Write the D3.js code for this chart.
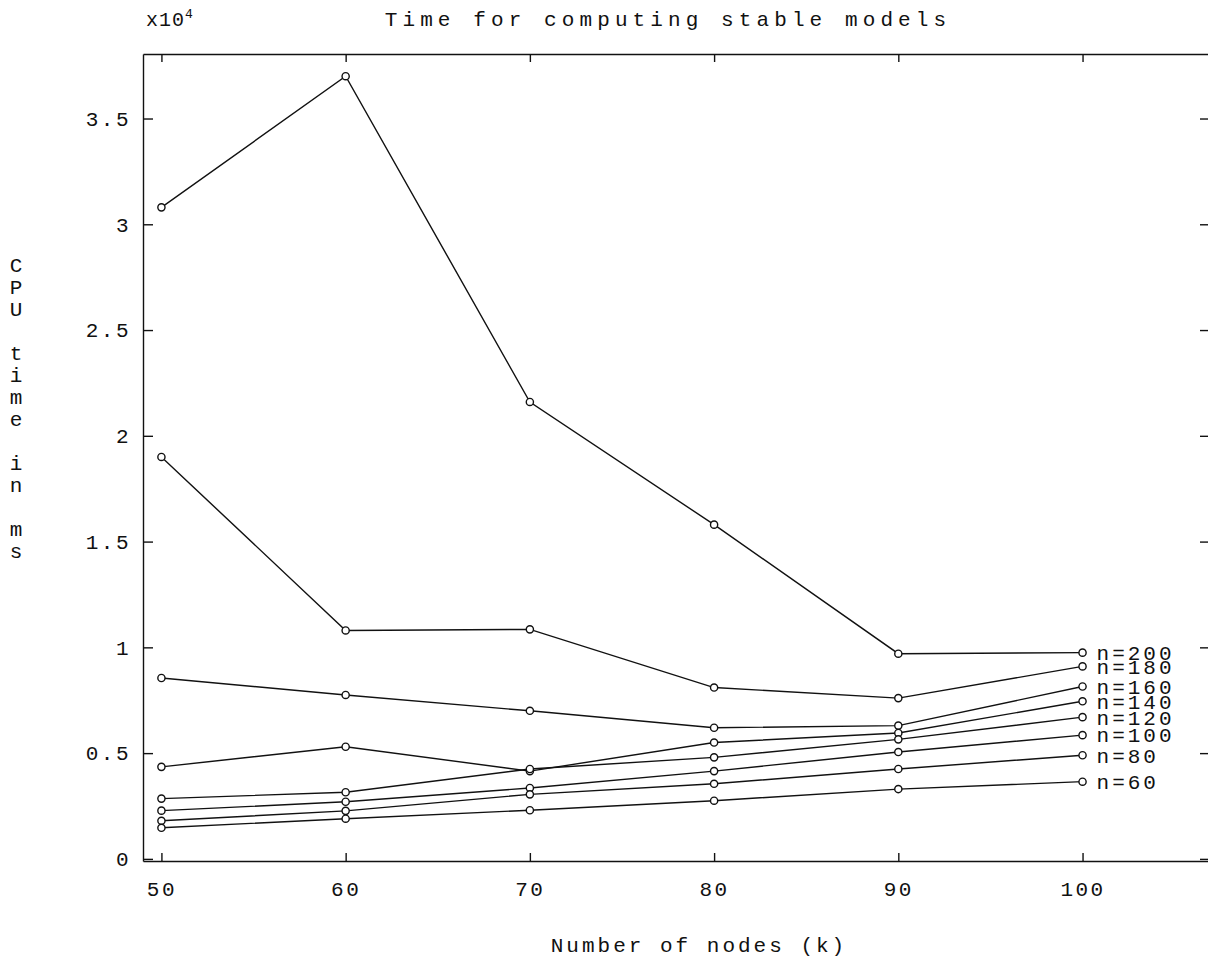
<!DOCTYPE html>
<meta charset="utf-8">
<title>Time for computing stable models</title>
<style>
  body { margin: 0; background: #fff; }
  text { font-family: "Liberation Mono", "DejaVu Sans Mono", monospace; fill: #111; }
  .axis text { font-size: 21px; letter-spacing: 2.5px; }
  .axis path, .axis line { stroke: #111; stroke-width: 1.4px; }
  .series { fill: none; stroke: #111; stroke-width: 1.4px; }
  .marker { fill: #fff; stroke: #111; stroke-width: 1.4px; }
</style>
<body>
<script src="https://cdn.jsdelivr.net/npm/d3@7"></script>
<script>

// number of nodes (k)
const nodes = [50, 60, 70, 80, 90, 100];

// CPU time in ms, one array per n
const n200 = [30800, 37000, 21600, 15800, 9700, 9750];
const n180 = [19000, 10800, 10850, 8100, 7600, 9100];
const n160 = [8550, 7750, 7000, 6200, 6300, 8150];
const n140 = [4350, 5300, 4150, 5500, 5950, 7450];
const n120 = [2850, 3150, 4250, 4800, 5650, 6700];
const n100 = [2280, 2700, 3350, 4150, 5050, 5850];
const n80  = [1800, 2270, 3050, 3550, 4250, 4900];
const n60  = [1470, 1900, 2300, 2750, 3300, 3650];

const seriesNames = ["n=200", "n=180", "n=160", "n=140", "n=120", "n=100", "n=80", "n=60"];
const seriesValues = [n200, n180, n160, n140, n120, n100, n80, n60];

const yTicks = [0, 5000, 10000, 15000, 20000, 25000, 30000, 35000];
const xTicks = [50, 60, 70, 80, 90, 100];

const width = 1208, height = 966;

const x = d3.scaleLinear().domain([49, 107]).range([143, 1211.5]);
const y = d3.scaleLinear().domain([-100, 38050]).range([861, 54]);

const svg = d3.select("body").append("svg")
    .attr("width", width)
    .attr("height", height);

// box + ticks
svg.append("g").attr("class", "axis")
    .attr("transform", `translate(0,${y.range()[0]})`)
    .call(d3.axisBottom(x).tickValues(xTicks).tickSize(-8).tickSizeOuter(0).tickPadding(20))
    .selectAll("text").attr("dy", "0.71em");

svg.append("g").attr("class", "axis")
    .attr("transform", `translate(0,${y.range()[1]})`)
    .call(d3.axisTop(x).tickValues(xTicks).tickSize(-8).tickSizeOuter(0).tickFormat(""));

svg.append("g").attr("class", "axis")
    .attr("transform", `translate(${x.range()[0]},0)`)
    .call(d3.axisLeft(y).tickValues(yTicks).tickSize(-10).tickSizeOuter(0).tickPadding(12)
      .tickFormat(d => String(d / 10000)));

svg.append("g").attr("class", "axis")
    .attr("transform", `translate(${x.range()[1] - 1.5},0)`)
    .call(d3.axisRight(y).tickValues(yTicks).tickSize(-10).tickSizeOuter(0).tickFormat(""));

const line = d3.line()
    .x((d, i) => x(nodes[i]))
    .y(d => y(d));

const g = svg.append("g");

seriesValues.forEach((vals, si) => {
  g.append("path")
      .attr("class", "series")
      .attr("d", line(vals));

  g.selectAll(null)
      .data(vals)
    .enter().append("circle")
      .attr("class", "marker")
      .attr("cx", (d, i) => x(nodes[i]))
      .attr("cy", d => y(d))
      .attr("r", 3.6);

  const last = vals[vals.length - 1];
  g.append("text")
      .attr("x", x(nodes[nodes.length - 1]) + 14)
      .attr("y", y(last))
      .attr("dy", "0.35em")
      .style("font-size", "21px")
      .style("letter-spacing", "3px")
      .text(seriesNames[si]);
});

// title
svg.append("text")
    .attr("x", 668)
    .attr("y", 26)
    .attr("text-anchor", "middle")
    .style("font-size", "21px")
    .style("letter-spacing", "5.1px")
    .text("Time for computing stable models");

// exponent
const ex = svg.append("text")
    .attr("x", 146)
    .attr("y", 26)
    .style("font-size", "20px")
    .style("letter-spacing", "1px");
ex.append("tspan").text("x10");
ex.append("tspan").attr("dy", "-8").style("font-size", "13px").text("4");

// y axis title, one character per line
const yLabel = "CPU time in ms".split("");
svg.append("g").selectAll("text")
    .data(yLabel)
  .enter().append("text")
    .attr("x", 16)
    .attr("y", (d, i) => 265 + i * 22)
    .attr("dy", "0.35em")
    .attr("text-anchor", "middle")
    .style("font-size", "21px")
    .text(d => d);

// x axis title
svg.append("text")
    .attr("x", 699)
    .attr("y", 945)
    .attr("dy", "0.35em")
    .attr("text-anchor", "middle")
    .style("font-size", "21px")
    .style("letter-spacing", "3px")
    .text("Number of nodes (k)");

</script>
</body>
